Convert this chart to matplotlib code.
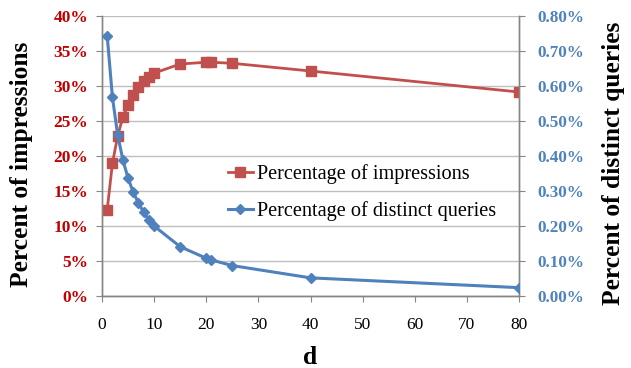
import matplotlib
matplotlib.use("Agg")
import matplotlib.pyplot as plt
from matplotlib.ticker import FuncFormatter

d = [1, 2, 3, 4, 5, 6, 7, 8, 9, 10, 15, 20, 21, 25, 40, 80]
impressions = [12.3, 18.9, 22.8, 25.5, 27.3, 28.7, 29.8, 30.6, 31.2, 31.8,
               33.1, 33.35, 33.35, 33.2, 32.1, 29.1]
distinct = [0.742, 0.567, 0.460, 0.388, 0.336, 0.295, 0.265, 0.238, 0.217,
            0.199, 0.140, 0.107, 0.102, 0.086, 0.051, 0.023]
left_ticks = [0, 5, 10, 15, 20, 25, 30, 35, 40]
right_ticks = [0.0, 0.1, 0.2, 0.3, 0.4, 0.5, 0.6, 0.7, 0.8]
x_ticks = [0, 10, 20, 30, 40, 50, 60, 70, 80]

plt.rcParams['font.family'] = ['Liberation Serif', 'DejaVu Serif']

W, H = 631, 368
fig = plt.figure(figsize=(W / 100, H / 100), dpi=100)
L, R, T, B = 102, 519, 15.7, 295.7
AW, AH = R - L, B - T
ax = fig.add_axes([L / W, 1 - B / H, AW / W, AH / H])
ax2 = ax.twinx()

red = '#C0504D'
blue = '#4F81BD'
spine_c = '#868686'
grid_c = '#BFBFBF'

l1, = ax.plot(d, impressions, color=red, lw=2.0, marker='s', ms=7.5,
              label='Percentage of impressions', zorder=3)
l2, = ax2.plot(d, distinct, color=blue, lw=2.2, marker='D', ms=5.5,
               label='Percentage of distinct queries', zorder=4)

ax.set_xlim(0, 80)
ax.set_ylim(0, 40)
ax2.set_ylim(0, 0.8)
ax.set_xticks(x_ticks)
ax.set_yticks(left_ticks)
ax2.set_yticks(right_ticks)
ax.yaxis.set_major_formatter(FuncFormatter(lambda v, p: f"{v:.0f}%"))
ax2.yaxis.set_major_formatter(FuncFormatter(lambda v, p: f"{v:.2f}%"))

ax.grid(axis='y', color=grid_c, lw=1.0)
ax.set_axisbelow(True)

for a in (ax, ax2):
    a.spines['top'].set_visible(False)
    for s in ('left', 'right', 'bottom'):
        a.spines[s].set_color(spine_c)
        a.spines[s].set_linewidth(1.0)

ax.tick_params(axis='x', direction='out', length=4, color=spine_c,
               labelsize=12.5, pad=11)
ax.tick_params(axis='y', direction='out', length=4, color=spine_c,
               labelsize=12.5, labelcolor='#C00000', pad=6)
ax2.tick_params(axis='y', direction='out', length=4, color=spine_c,
                labelsize=12.3, labelcolor='#4F81BD', pad=9)
for lbl in ax.get_yticklabels():
    lbl.set_fontweight('bold')
for lbl in ax2.get_yticklabels():
    lbl.set_fontweight('bold')

ax.set_xlabel('d', fontsize=18.4, fontweight='bold')
ax.xaxis.set_label_coords(0.5, -(346 - B) / AH)
ax.set_ylabel('Percent of impressions', fontsize=18.4, fontweight='bold')
ax.yaxis.set_label_coords(-(L - 33) / AW, (B - 164) / AH)
ax2.set_ylabel('Percent of distinct queries', fontsize=18.4, fontweight='bold',
               rotation=90)
ax2.yaxis.set_label_coords((602 - L) / AW, (B - 163.3) / AH)

fig.legend(handles=[l1, l2], loc='upper left',
           bbox_to_anchor=(228 / W, 1 - 164 / H), frameon=False,
           fontsize=14.6, handlelength=1.23, handletextpad=0.2,
           labelspacing=0.85, borderpad=0, borderaxespad=0)

fig.savefig('out.png', dpi=100)
